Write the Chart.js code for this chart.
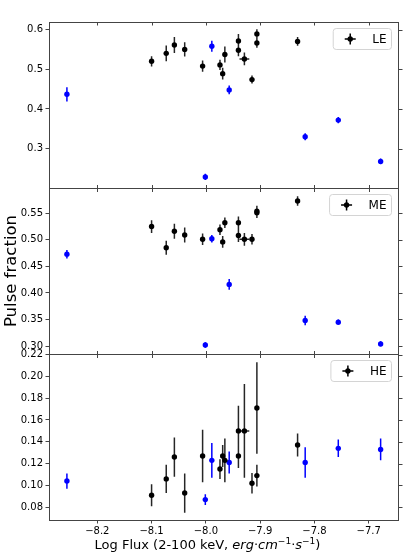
<!DOCTYPE html>
<html>
<head>
<meta charset="utf-8">
<title>Pulse fraction vs flux</title>
<script src="https://cdn.jsdelivr.net/npm/chart.js@4.4.0/dist/chart.umd.min.js"></script>
<style>
  body { margin: 0; background: #fff; }
  #wrap { position: relative; width: 415px; height: 554px; }
  #wrap canvas { position: absolute; left: 0; top: 0; }
  #xlabel {
    position: absolute; left: 0; top: 537px; width: 415px;
    text-align: center; font: 13px "DejaVu Sans"; line-height: 15px; color: #000;
  }
  #xlabel sup { font-size: 9px; vertical-align: 5px; line-height: 0; }
</style>
</head>
<body>
<div id="wrap">
  <canvas id="panelLE" width="415" height="554"></canvas>
  <canvas id="panelME" width="415" height="554"></canvas>
  <canvas id="panelHE" width="415" height="554"></canvas>
  <div id="xlabel">Log Flux (2-100 keV, <i>erg</i>·<i>cm</i><sup>−1</sup>·<i>s</i><sup>−1</sup>)</div>
</div>
<script>
// x values (log flux) for the two groups of observations
const fluxBlack = [-8.100, -8.073, -8.058, -8.039, -8.006, -7.974, -7.969, -7.965, -7.940, -7.940, -7.929, -7.915, -7.906, -7.906, -7.831];
const fluxErrBlack = [0.003, 0.003, 0.003, 0.003, 0.003, 0.003, 0.003, 0.003, 0.003, 0.003, 0.009, 0.003, 0.003, 0.003, 0.003];
const fluxBlue = [-8.256, -8.001, -7.989, -7.957, -7.817, -7.756, -7.678];
const fluxErrBlue = [0.003, 0.003, 0.003, 0.003, 0.003, 0.003, 0.003];

// LE
const leBlack = [0.520, 0.540, 0.561, 0.550, 0.508, 0.511, 0.489, 0.537, 0.571, 0.548, 0.526, 0.474, 0.589, 0.566, 0.570];
const leErrBlack = [0.013, 0.020, 0.020, 0.018, 0.014, 0.013, 0.015, 0.020, 0.018, 0.015, 0.016, 0.010, 0.012, 0.012, 0.011];
const leBlue = [0.437, 0.229, 0.558, 0.448, 0.330, 0.372, 0.268];
const leErrBlue = [0.018, 0.008, 0.014, 0.011, 0.009, 0.008, 0.007];

// ME
const meBlack = [0.525, 0.485, 0.516, 0.509, 0.501, 0.519, 0.496, 0.532, 0.532, 0.508, 0.501, 0.501, 0.554, 0.551, 0.573];
const meErrBlack = [0.012, 0.013, 0.014, 0.014, 0.011, 0.010, 0.011, 0.010, 0.012, 0.012, 0.012, 0.010, 0.010, 0.010, 0.009];
const meBlue = [0.473, 0.302, 0.502, 0.416, 0.348, 0.345, 0.304];
const meErrBlue = [0.008, 0.005, 0.007, 0.010, 0.009, 0.005, 0.005];

// HE
const heBlack = [0.091, 0.106, 0.126, 0.093, 0.127, 0.115, 0.127, 0.123, 0.150, 0.127, 0.150, 0.102, 0.171, 0.109, 0.137];
const heErrBlack = [0.010, 0.013, 0.018, 0.018, 0.024, 0.009, 0.010, 0.020, 0.023, 0.011, 0.043, 0.0095, 0.042, 0.010, 0.0105];
const heBlue = [0.104, 0.087, 0.123, 0.121, 0.121, 0.134, 0.133];
const heErrBlue = [0.007, 0.005, 0.016, 0.010, 0.014, 0.008, 0.010];

// tick labels
const xTicks = [-8.2, -8.1, -8.0, -7.9, -7.8, -7.7];
const leTicks = [0.3, 0.4, 0.5, 0.6];
const meTicks = [0.30, 0.35, 0.40, 0.45, 0.50, 0.55];
const heTicks = [0.08, 0.10, 0.12, 0.14, 0.16, 0.18, 0.20, 0.22];

const FONT = '"DejaVu Sans"';

function points(xs, ys) {
    return xs.map((v, i) => ({ x: v, y: ys[i] }));
}

// vertical + horizontal error bars, drawn under the markers
const errorBars = {
    id: 'errorBars',
    beforeDatasetsDraw(chart) {
        const { ctx, scales: { x, y } } = chart;
        chart.data.datasets.forEach(ds => {
            ctx.save();
            ctx.strokeStyle = ds.errColor;
            ctx.lineWidth = 1.5;
            ctx.beginPath();
            ds.data.forEach((p, i) => {
                const px = x.getPixelForValue(p.x);
                const py = y.getPixelForValue(p.y);
                ctx.moveTo(px, y.getPixelForValue(p.y - ds.yErr[i]));
                ctx.lineTo(px, y.getPixelForValue(p.y + ds.yErr[i]));
                ctx.moveTo(x.getPixelForValue(p.x - ds.xErr[i]), py);
                ctx.lineTo(x.getPixelForValue(p.x + ds.xErr[i]), py);
            });
            ctx.stroke();
            ctx.restore();
        });
    }
};

// box round the plot plus the top / right tick marks
const frame = {
    id: 'frame',
    afterDatasetsDraw(chart, args, opts) {
        const { ctx, chartArea: a, scales: { x, y } } = chart;
        ctx.save();
        ctx.strokeStyle = '#444';
        ctx.lineWidth = 1;
        ctx.strokeRect(a.left + 0.5, a.top + 0.5, a.right - a.left, a.bottom - a.top);
        ctx.beginPath();
        xTicks.forEach(v => {
            const px = Math.round(x.getPixelForValue(v)) + 0.5;
            ctx.moveTo(px, a.top);
            ctx.lineTo(px, a.top + 3.5);
            if (!opts.bottomAxis) {
                ctx.moveTo(px, a.bottom - 3);
                ctx.lineTo(px, a.bottom + 4);
            }
        });
        opts.yTicks.forEach(v => {
            const py = Math.round(y.getPixelForValue(v)) + 0.5;
            ctx.moveTo(a.right + 1, py);
            ctx.lineTo(a.right + 4.5, py);
        });
        ctx.stroke();
        ctx.restore();
    }
};

// matplotlib-like legend box in the upper right corner
const boxLegend = {
    id: 'boxLegend',
    afterDraw(chart, args, opts) {
        const { ctx, chartArea: a } = chart;
        ctx.save();
        ctx.font = '12px ' + FONT;
        const tw = ctx.measureText(opts.text).width;
        const right = a.right - 6.5;
        const top = a.top + 6.5;
        const h = 21;
        const textRight = right - 5;
        const left = textRight - tw - 39;
        const r = 3;

        ctx.beginPath();
        ctx.moveTo(left + r, top);
        ctx.lineTo(right - r, top);
        ctx.arcTo(right, top, right, top + r, r);
        ctx.lineTo(right, top + h - r);
        ctx.arcTo(right, top + h, right - r, top + h, r);
        ctx.lineTo(left + r, top + h);
        ctx.arcTo(left, top + h, left, top + h - r, r);
        ctx.lineTo(left, top + r);
        ctx.arcTo(left, top, left + r, top, r);
        ctx.closePath();
        ctx.fillStyle = 'rgba(255,255,255,0.8)';
        ctx.fill();
        ctx.strokeStyle = '#d4d4d4';
        ctx.lineWidth = 1;
        ctx.stroke();

        const cx = left + 17, cy = top + h / 2;
        ctx.strokeStyle = '#000';
        ctx.lineWidth = 1.5;
        ctx.beginPath();
        ctx.moveTo(cx - 5.5, cy); ctx.lineTo(cx + 5.5, cy);
        ctx.moveTo(cx, cy - 5.5); ctx.lineTo(cx, cy + 5.5);
        ctx.stroke();
        ctx.fillStyle = '#000';
        ctx.beginPath();
        ctx.arc(cx, cy, 2.7, 0, Math.PI * 2);
        ctx.fill();

        ctx.textAlign = 'left';
        ctx.textBaseline = 'middle';
        ctx.fillText(opts.text, textRight - tw, cy + 0.5);
        ctx.restore();
    }
};

function makePanel(canvasId, cfg) {
    const isBottom = !!cfg.bottomAxis;
    return new Chart(document.getElementById(canvasId), {
        type: 'scatter',
        data: {
            datasets: [
                {
                    label: cfg.label,
                    data: points(fluxBlack, cfg.black),
                    yErr: cfg.blackErr,
                    xErr: fluxErrBlack,
                    errColor: 'rgba(0,0,0,0.85)',
                    backgroundColor: '#000',
                    borderWidth: 0,
                    pointRadius: 2.7
                },
                {
                    label: cfg.label + ' (other)',
                    data: points(fluxBlue, cfg.blue),
                    yErr: cfg.blueErr,
                    xErr: fluxErrBlue,
                    errColor: '#0000ff',
                    backgroundColor: '#0000ff',
                    borderWidth: 0,
                    pointRadius: 2.7
                }
            ]
        },
        options: {
            responsive: false,
            animation: false,
            devicePixelRatio: 1,
            events: [],
            layout: {
                padding: { left: 0, right: 17, top: cfg.top, bottom: isBottom ? 0 : 554 - cfg.bottom }
            },
            plugins: {
                legend: { display: false },
                tooltip: { enabled: false },
                frame: { yTicks: cfg.ticks, bottomAxis: isBottom },
                boxLegend: { text: cfg.label }
            },
            scales: {
                x: {
                    type: 'linear',
                    min: -8.289,
                    max: -7.646,
                    display: isBottom,
                    afterBuildTicks: s => { s.ticks = xTicks.map(v => ({ value: v })); },
                    afterFit: s => { if (isBottom) s.height = 554 - cfg.bottom; },
                    grid: { drawOnChartArea: false, tickLength: 3.5, color: '#444' },
                    border: { display: false },
                    ticks: {
                        color: '#000',
                        font: { family: FONT, size: 10 },
                        padding: 1.5,
                        maxRotation: 0,
                        callback: v => v.toFixed(1).replace('-', '\u2212')
                    }
                },
                y: {
                    type: 'linear',
                    min: cfg.min,
                    max: cfg.max,
                    afterBuildTicks: s => { s.ticks = cfg.ticks.map(v => ({ value: v })); },
                    afterFit: s => { s.width = 49; },
                    grid: { drawOnChartArea: false, tickLength: 3.5, color: '#444' },
                    border: { display: false },
                    title: {
                        display: !!cfg.yTitle,
                        text: cfg.yTitle || '',
                        color: '#000',
                        font: { family: FONT, size: 16.5 },
                        padding: { top: 2, bottom: 0 }
                    },
                    ticks: {
                        color: '#000',
                        font: { family: FONT, size: 10 },
                        padding: 2.5,
                        callback: v => v.toFixed(cfg.decimals)
                    }
                }
            }
        },
        plugins: [errorBars, frame, boxLegend]
    });
}

window.addEventListener('DOMContentLoaded', () => {
    makePanel('panelLE', {
        label: 'LE', black: leBlack, blackErr: leErrBlack, blue: leBlue, blueErr: leErrBlue,
        top: 22, bottom: 188, min: 0.201, max: 0.619, ticks: leTicks, decimals: 1
    });
    makePanel('panelME', {
        label: 'ME', black: meBlack, blackErr: meErrBlack, blue: meBlue, blueErr: meErrBlue,
        top: 188, bottom: 354, min: 0.285, max: 0.5975, ticks: meTicks, decimals: 2,
        yTitle: 'Pulse fraction'
    });
    makePanel('panelHE', {
        label: 'HE', black: heBlack, blackErr: heErrBlack, blue: heBlue, blueErr: heErrBlue,
        top: 354, bottom: 520, min: 0.0683, max: 0.2205, ticks: heTicks, decimals: 2,
        bottomAxis: true
    });
});
</script>
</body>
</html>
